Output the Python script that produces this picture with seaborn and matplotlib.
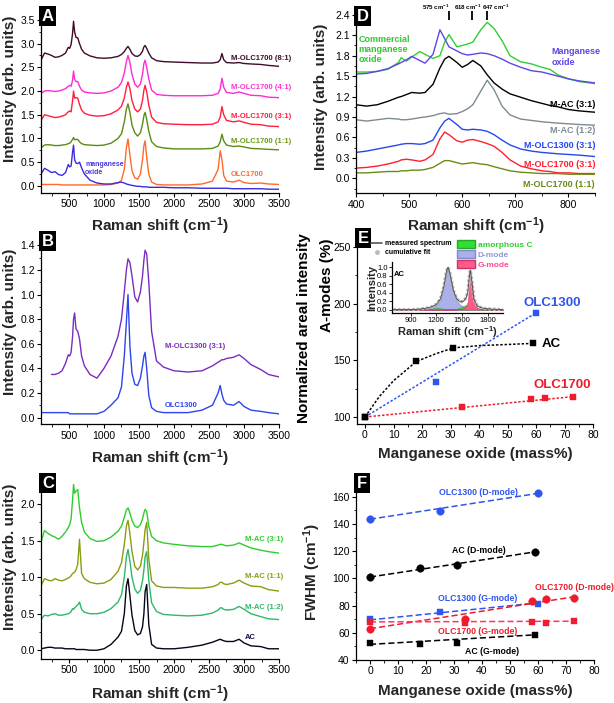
import matplotlib
matplotlib.use("Agg")
import matplotlib.pyplot as plt
import seaborn as sns
from matplotlib.ticker import MultipleLocator, FormatStrFormatter
from matplotlib.lines import Line2D
from matplotlib.patches import Patch

# ---------------- data ----------------
# panels A-C share one Raman shift grid (cm-1)
xa = [100, 150, 200, 250, 300, 350, 400, 450, 490, 510,
      530, 550, 565, 580, 600, 625, 650, 680, 720, 800,
      900, 1000, 1100, 1200, 1250, 1290, 1320, 1343, 1370, 1400,
      1440, 1480, 1520, 1550, 1570, 1587, 1610, 1640, 1680, 1750,
      1850, 2000, 2200, 2400, 2550, 2630, 2660, 2685, 2710, 2750,
      2850, 2930, 3000, 3100, 3240, 3350, 3500]

# A
a_81 = [2.65, 2.80, 2.78, 2.75, 2.71, 2.72, 2.75, 2.80, 2.92, 2.90,
        2.98, 3.20, 3.47, 3.25, 3.13, 3.12, 3.00, 2.88, 2.80, 2.74,
        2.70, 2.69, 2.70, 2.73, 2.77, 2.83, 2.90, 2.94, 2.88, 2.79,
        2.74, 2.73, 2.77, 2.84, 2.93, 2.96, 2.90, 2.80, 2.70, 2.64,
        2.62, 2.61, 2.60, 2.59, 2.59, 2.61, 2.66, 2.79, 2.66, 2.60,
        2.59, 2.60, 2.58, 2.57, 2.56, 2.54, 2.52]
a_41 = [1.95, 2.00, 2.01, 2.00, 1.99, 2.00, 2.02, 2.05, 2.10, 2.12,
        2.10, 2.22, 2.42, 2.25, 2.20, 2.20, 2.10, 2.02, 1.98, 1.96,
        1.95, 1.96, 2.00, 2.08, 2.18, 2.38, 2.62, 2.75, 2.60, 2.35,
        2.15, 2.08, 2.15, 2.35, 2.58, 2.65, 2.50, 2.25, 2.02, 1.93,
        1.91, 1.90, 1.90, 1.90, 1.91, 1.95, 2.04, 2.27, 2.08, 1.97,
        1.95, 1.98, 1.95, 1.91, 1.90, 1.87, 1.86]
a_31 = [1.38, 1.50, 1.48, 1.46, 1.44, 1.45, 1.47, 1.50, 1.56, 1.58,
        1.56, 1.78, 2.00, 1.85, 1.86, 1.85, 1.72, 1.60, 1.53, 1.49,
        1.47, 1.48, 1.52, 1.60, 1.68, 1.85, 2.08, 2.19, 2.05, 1.80,
        1.62, 1.56, 1.62, 1.80, 2.02, 2.12, 1.98, 1.70, 1.45, 1.34,
        1.31, 1.30, 1.29, 1.29, 1.30, 1.35, 1.45, 1.67, 1.50, 1.38,
        1.35, 1.37, 1.34, 1.30, 1.29, 1.26, 1.25]
a_11 = [0.80, 0.86, 0.87, 0.86, 0.85, 0.85, 0.86, 0.87, 0.89, 0.90,
        0.93, 0.98, 1.02, 0.97, 0.98, 0.98, 0.93, 0.89, 0.87, 0.86,
        0.85, 0.86, 0.90, 1.00, 1.10, 1.35, 1.62, 1.73, 1.55, 1.28,
        1.12, 1.05, 1.12, 1.30, 1.48, 1.55, 1.40, 1.15, 0.93, 0.83,
        0.80, 0.78, 0.78, 0.78, 0.79, 0.84, 0.93, 1.09, 0.95, 0.86,
        0.83, 0.84, 0.82, 0.79, 0.78, 0.77, 0.76]
a_olc = [0.03, 0.03, 0.03, 0.03, 0.03, 0.03, 0.02, 0.02, 0.02, 0.02,
         0.02, 0.02, 0.02, 0.02, 0.02, 0.02, 0.02, 0.02, 0.02, 0.02,
         0.02, 0.02, 0.03, 0.06, 0.12, 0.35, 0.80, 0.99, 0.65, 0.32,
         0.17, 0.14, 0.25, 0.55, 0.85, 0.95, 0.60, 0.25, 0.08, 0.03,
         0.02, 0.02, 0.02, 0.04, 0.10, 0.35, 0.74, 0.55, 0.22, 0.10,
         0.08, 0.12, 0.07, 0.05, 0.06, 0.04, 0.03]
a_mn = [0.25, 0.37, 0.33, 0.28, 0.30, 0.24, 0.22, 0.28, 0.45, 0.40,
        0.42, 0.70, 0.86, 0.55, 0.48, 0.47, 0.50, 0.38, 0.25, 0.12,
        0.06, 0.04, 0.04, 0.07, 0.08, 0.06, 0.04, 0.03, 0.02, 0.01,
        0.00, -0.01, -0.01, -0.02, -0.02, -0.02, -0.02, -0.03, -0.03, -0.03,
        -0.03, -0.04, -0.04, -0.05, -0.05, -0.05, -0.05, -0.05, -0.05, -0.05,
        -0.06, -0.06, -0.06, -0.06, -0.06, -0.07, -0.07]

# B  (M-OLC1300 spectrum starts at 250 cm-1)
b_olc = [0.04, 0.04, 0.04, 0.04, 0.04, 0.04, 0.04, 0.04, 0.04, 0.03,
         0.03, 0.03, 0.03, 0.03, 0.03, 0.03, 0.03, 0.03, 0.03, 0.03,
         0.03, 0.05, 0.10, 0.16, 0.25, 0.50, 0.78, 1.00, 0.58, 0.36,
         0.27, 0.26, 0.32, 0.42, 0.50, 0.53, 0.40, 0.18, 0.08, 0.05,
         0.04, 0.04, 0.04, 0.06, 0.10, 0.20, 0.26, 0.19, 0.14, 0.11,
         0.10, 0.13, 0.09, 0.06, 0.05, 0.04, 0.03]
b_molc = [0.35, 0.35, 0.36, 0.38, 0.44, 0.51, 0.50,
          0.53, 0.65, 0.80, 0.85, 0.72, 0.70, 0.64, 0.50, 0.42, 0.35,
          0.32, 0.40, 0.50, 0.66, 0.80, 1.02, 1.20, 1.29, 1.26, 1.15,
          0.98, 0.94, 1.02, 1.15, 1.28, 1.36, 1.33, 1.10, 0.70, 0.46,
          0.41, 0.38, 0.37, 0.38, 0.42, 0.45, 0.46, 0.47, 0.47, 0.48,
          0.49, 0.51, 0.48, 0.43, 0.39, 0.35, 0.33]

# C
c_31 = [1.48, 1.64, 1.60, 1.57, 1.55, 1.52, 1.56, 1.62, 1.68, 1.72,
        1.80, 2.05, 2.27, 2.15, 2.18, 2.20, 1.95, 1.75, 1.62, 1.53,
        1.49, 1.50, 1.55, 1.63, 1.70, 1.82, 1.92, 1.95, 1.88, 1.78,
        1.70, 1.68, 1.72, 1.80, 1.88, 1.93, 1.90, 1.70, 1.56, 1.50,
        1.47, 1.45, 1.43, 1.42, 1.42, 1.44, 1.45, 1.45, 1.44, 1.43,
        1.44, 1.47, 1.44, 1.40, 1.37, 1.35, 1.33]
c_11 = [0.88, 0.98, 0.96, 0.95, 0.98, 0.96, 0.95, 0.97, 0.99, 1.00,
        1.02, 1.05, 1.06, 1.07, 1.10, 1.18, 1.52, 1.05, 0.98, 0.93,
        0.91, 0.92, 0.97, 1.08, 1.20, 1.45, 1.70, 1.78, 1.60, 1.35,
        1.15, 1.10, 1.15, 1.30, 1.48, 1.65, 1.75, 1.25, 0.95, 0.88,
        0.86, 0.86, 0.85, 0.85, 0.87, 0.90, 0.93, 0.93, 0.91, 0.90,
        0.92, 0.96, 0.92, 0.88, 0.87, 0.83, 0.81]
c_12 = [0.42, 0.48, 0.47, 0.49, 0.50, 0.48, 0.48, 0.49, 0.50, 0.51,
        0.53, 0.57, 0.56, 0.58, 0.60, 0.62, 0.66, 0.56, 0.52, 0.50,
        0.50, 0.52, 0.57, 0.66, 0.76, 1.00, 1.28, 1.38, 1.22, 1.00,
        0.84, 0.78, 0.82, 0.95, 1.10, 1.28, 1.35, 0.95, 0.65, 0.53,
        0.49, 0.48, 0.47, 0.48, 0.51, 0.55, 0.58, 0.58, 0.56, 0.55,
        0.56, 0.60, 0.56, 0.50, 0.46, 0.43, 0.42]
c_ac = [0.02, 0.03, 0.04, 0.04, 0.03, 0.03, 0.03, 0.02, 0.02, 0.02,
        0.02, 0.02, 0.02, 0.02, 0.01, 0.01, 0.01, 0.01, 0.01, 0.00,
        0.00, 0.02, 0.08, 0.18, 0.26, 0.50, 0.88, 0.98, 0.75, 0.48,
        0.27, 0.21, 0.23, 0.32, 0.50, 0.80, 0.90, 0.35, 0.08, 0.03,
        0.02, 0.02, 0.04, 0.07, 0.11, 0.14, 0.15, 0.14, 0.13, 0.12,
        0.12, 0.15, 0.10, 0.06, 0.05, 0.02, 0.02]

# D
xd = [400, 420, 440, 460, 480, 485, 495, 505, 520, 530,
      545, 558, 567, 575, 590, 600, 610, 620, 635, 647,
      660, 675, 690, 710, 730, 750, 765, 780, 800, 820,
      850]
d_com = [1.56, 1.56, 1.57, 1.60, 1.70, 1.77, 1.72, 1.78, 1.86, 1.82,
         1.76, 1.80, 2.00, 2.11, 1.93, 1.95, 1.97, 2.00, 2.18, 2.29,
         2.20, 2.02, 1.80, 1.71, 1.68, 1.63, 1.60, 1.52, 1.46, 1.42,
         1.39]
d_mn = [1.53, 1.54, 1.57, 1.61, 1.68, 1.70, 1.74, 1.79, 1.73, 1.69,
        1.82, 2.18, 2.05, 1.93, 1.87, 1.83, 1.81, 1.82, 1.84, 1.83,
        1.80, 1.75, 1.69, 1.63, 1.58, 1.56, 1.53, 1.50, 1.46, 1.43,
        1.40]
d_ac31 = [1.08, 1.06, 1.08, 1.13, 1.19, 1.20, 1.23, 1.26, 1.25, 1.26,
          1.38, 1.62, 1.75, 1.79, 1.70, 1.63, 1.67, 1.73, 1.65, 1.52,
          1.40, 1.31, 1.24, 1.19, 1.14, 1.10, 1.07, 1.05, 1.01, 0.99,
          0.97]
d_ac12 = [0.86, 0.84, 0.86, 0.88, 0.87, 0.86, 0.86, 0.87, 0.89, 0.90,
          0.92, 0.95, 0.96, 0.94, 0.95, 0.98, 1.02, 1.08, 1.28, 1.44,
          1.30, 1.06, 0.93, 0.87, 0.85, 0.83, 0.82, 0.81, 0.80, 0.79,
          0.78]
d_olc13 = [0.38, 0.40, 0.43, 0.46, 0.49, 0.50, 0.51, 0.51, 0.50, 0.51,
           0.56, 0.74, 0.84, 0.88, 0.79, 0.72, 0.71, 0.72, 0.71, 0.69,
           0.64, 0.56, 0.49, 0.43, 0.40, 0.38, 0.37, 0.36, 0.35, 0.34,
           0.32]
d_olc17_31 = [0.15, 0.16, 0.18, 0.21, 0.25, 0.27, 0.28, 0.27, 0.25, 0.27,
              0.35, 0.58, 0.68, 0.64, 0.55, 0.53, 0.56, 0.57, 0.54, 0.51,
              0.47, 0.38, 0.27, 0.18, 0.14, 0.11, 0.10, 0.08, 0.08, 0.07,
              0.07]
d_olc17_11 = [0.08, 0.08, 0.09, 0.10, 0.10, 0.11, 0.11, 0.12, 0.12, 0.13,
              0.16, 0.22, 0.26, 0.26, 0.23, 0.21, 0.22, 0.23, 0.21, 0.20,
              0.17, 0.14, 0.11, 0.09, 0.08, 0.07, 0.07, 0.07, 0.06, 0.06,
              0.06]
d_marks = [575, 618, 647]
d_mark_text_x = [550, 610, 664]

# E inset (AC peak fit)
xi = [700, 900, 1000, 1100, 1150, 1200, 1250, 1290, 1320, 1338,
      1360, 1400, 1440, 1480, 1520, 1550, 1570, 1585, 1598, 1615,
      1640, 1680, 1750, 1850, 1980]
i_meas = [0.0, 0.0, 0.01, 0.04, 0.07, 0.12, 0.25, 0.55, 0.90, 1.0,
          0.85, 0.45, 0.25, 0.18, 0.20, 0.28, 0.42, 0.75, 0.93, 0.70,
          0.25, 0.08, 0.03, 0.01, 0.0]
i_d = [0.0, 0.0, 0.01, 0.03, 0.06, 0.10, 0.22, 0.52, 0.88, 0.98,
       0.83, 0.42, 0.20, 0.11, 0.07, 0.06, 0.05, 0.04, 0.04, 0.03,
       0.03, 0.02, 0.01, 0.0, 0.0]
i_g = [0.0, 0.0, 0.0, 0.0, 0.0, 0.0, 0.0, 0.0, 0.0, 0.0,
       0.0, 0.0, 0.0, 0.01, 0.03, 0.07, 0.20, 0.55, 0.80, 0.55,
       0.15, 0.04, 0.01, 0.0, 0.0]
i_am = [0.0, 0.0, 0.0, 0.01, 0.02, 0.04, 0.03, 0.02, 0.01, 0.01,
        0.01, 0.01, 0.02, 0.04, 0.08, 0.11, 0.11, 0.08, 0.06, 0.04,
        0.02, 0.01, 0.0, 0.0, 0.0]

# E main
e_ac_x = [0, 18, 31, 59]
e_ac_y = [100, 149, 161, 165]
e_ac_fit_x = [0, 5, 10, 18, 25, 31, 40, 50, 59]
e_ac_fit_y = [100, 118, 132, 149, 156, 161, 163, 164, 165]
e_13_x = [0, 25, 60]
e_13_y = [100, 131, 192]
e_13_fit = [100, 192]
e_17_x = [0, 34, 58, 63, 73]
e_17_y = [100, 109, 116, 117, 118]
e_17_fit = [100, 118]

# F (FWHM)
f_13_d = [143.5, 149.5, 162.5]
f_13_g = [70, 75, 81.5]
f_ac_d = [101, 108, 109.5, 119.5]
f_ac_g = [52.5, 52, 52.5, 58.5]
f_17_d = [63, 70.5, 83.5, 84.5, 85.5]
f_17_g = [68, 67.5, 68, 67, 68.5]
f_13_d_fit = [143.5, 162.5]
f_13_g_fit = [69.5, 82]
f_ac_d_fit = [101, 119.5]
f_ac_g_fit = [51.5, 58.5]
f_17_d_fit = [63, 86.5]
f_17_g_fit = [68, 68.5]

BLUE = "#2f55ee"
RED = "#ee1c2c"

# ---------------- style ----------------
sns.set_theme(style="ticks")
plt.rcParams["font.family"] = ["Liberation Sans", "DejaVu Sans"]
plt.rcParams["mathtext.default"] = "regular"
plt.rcParams["axes.edgecolor"] = "black"
plt.rcParams["axes.linewidth"] = 0.9
plt.rcParams["xtick.color"] = "black"
plt.rcParams["ytick.color"] = "black"
plt.rcParams["text.color"] = "black"

fig = plt.figure(figsize=(6.14, 7.03), dpi=100)
W, H = 614, 703


def px_axes(left, top, right, bottom):
    return fig.add_axes([left / W, 1 - bottom / H, (right - left) / W, (bottom - top) / H])


def style(ax, xlim, ylim, xstep, ystep, xfmt="%d", yfmt="%.1f"):
    ax.set_xlim(*xlim)
    ax.set_ylim(*ylim)
    ax.xaxis.set_major_locator(MultipleLocator(xstep))
    ax.xaxis.set_minor_locator(MultipleLocator(xstep / 2))
    ax.yaxis.set_major_locator(MultipleLocator(ystep))
    ax.yaxis.set_minor_locator(MultipleLocator(ystep / 2))
    ax.xaxis.set_major_formatter(FormatStrFormatter(xfmt))
    ax.yaxis.set_major_formatter(FormatStrFormatter(yfmt))
    sns.despine(ax=ax)
    ax.tick_params(which="major", direction="out", length=3, width=0.8, labelsize=7.5, pad=1.5)
    ax.tick_params(which="minor", direction="out", length=1.8, width=0.6)
    ax.set_facecolor("none")


def letter(ax, s):
    ax.text(0.004, 0.996, s, transform=ax.transAxes, ha="left", va="top", color="white",
            fontsize=12, fontweight="bold",
            bbox=dict(boxstyle="square,pad=0.15", fc="black", ec="none"))


def labels(ax, xlab, ylab, ylx, yly, xly=-0.12):
    ax.set_xlabel(xlab, fontsize=11, fontweight="bold")
    ax.xaxis.set_label_coords(0.5, xly)
    ax.xaxis.label.set_va("top")
    if ylab:
        ax.set_ylabel(ylab, fontsize=11, fontweight="bold")
        ax.yaxis.set_label_coords(ylx, yly)


def spec(ax, x, y, color, lw=1.0):
    sns.lineplot(x=x, y=y, ax=ax, color=color, lw=lw, sort=False, estimator=None, legend=False)


def tag(ax, x, y, s, color, size=5.5, ha="left"):
    ax.text(x, y, s, color=color, fontsize=size, fontweight="bold", ha=ha, va="center")


RAMAN = "Raman shift (cm$^{-1}$)"
INT = "Intensity (arb. units)"

# ---------------- A ----------------
axA = px_axes(41, 8, 279, 193)
spec(axA, xa, a_81, "#3d0c2a")
spec(axA, xa, a_41, "#ff2ad4")
spec(axA, xa, a_31, "#ff1f3d")
spec(axA, xa, a_11, "#5b8c12")
spec(axA, xa, a_olc, "#ff6a2a")
spec(axA, xa, a_mn, "#3b2be0")
style(axA, (100, 3500), (-0.15, 3.75), 500, 0.5)
tag(axA, 2814, 2.68, "M-OLC1700 (8:1)", "#3d0c2a")
tag(axA, 2814, 2.08, "M-OLC1700 (4:1)", "#ff33cc")
tag(axA, 2814, 1.46, "M-OLC1700 (3:1)", "#ff1f3d")
tag(axA, 2814, 0.945, "M-OLC1700 (1:1)", "#6a9a1a")
tag(axA, 2814, 0.25, "OLC1700", "#ff6a2a")
tag(axA, 729, 0.37, "manganese\noxide", "#4a3ae0", size=5)
letter(axA, "A")
labels(axA, RAMAN, INT, -0.102, 0.561)

# ---------------- B ----------------
axB = px_axes(41, 233, 279, 424.3)
spec(axB, xa[3:], b_molc, "#7a2cc0")
spec(axB, xa, b_olc, "#2e44f0")
style(axB, (100, 3500), (-0.055, 1.5), 500, 0.2)
tag(axB, 1871, 0.574, "M-OLC1300 (3:1)", "#7a2cc0")
tag(axB, 1871, 0.095, "OLC1300", "#2e44f0")
letter(axB, "B")
labels(axB, RAMAN, INT, -0.102, 0.536)

# ---------------- C ----------------
axC = px_axes(41, 475, 279, 659)
spec(axC, xa, c_31, "#2fcc2f")
spec(axC, xa, c_11, "#8c9c10")
spec(axC, xa, c_12, "#2db86a")
spec(axC, xa, c_ac, "#05051a")
style(axC, (100, 3500), (-0.12, 2.4), 500, 0.5)
tag(axC, 3014, 1.52, "M-AC (3:1)", "#2fcc2f")
tag(axC, 3014, 1.01, "M-AC (1:1)", "#8c9c10")
tag(axC, 3014, 0.59, "M-AC (1:2)", "#2db86a")
tag(axC, 3014, 0.17, "AC", "#10104a")
letter(axC, "C")
labels(axC, RAMAN, INT, -0.102, 0.557, xly=-0.13)

# ---------------- D ----------------
axD = px_axes(356, 8, 595, 193.3)
spec(axD, xd, d_com, "#2fd02f")
spec(axD, xd, d_mn, "#5f45e8")
spec(axD, xd, d_ac31, "#000000")
spec(axD, xd, d_ac12, "#7d8a92")
spec(axD, xd, d_olc13, "#2448f0")
spec(axD, xd, d_olc17_31, "#ff1f2f")
spec(axD, xd, d_olc17_11, "#6b8c12")
style(axD, (400, 850), (-0.22, 2.5), 100, 0.3)
axD.vlines(d_marks, 2.32, 2.45, color="black", lw=1.3, clip_on=False)
for xm, s in zip(d_mark_text_x, ["575 cm$^{-1}$", "618 cm$^{-1}$", "647 cm$^{-1}$"]):
    axD.text(xm, 2.515, s, fontsize=4.4, fontweight="bold", ha="center", va="center", clip_on=False)
tag(axD, 405, 1.89, "Commercial\nmanganese\noxide", "#2fc82f", size=6.5)
tag(axD, 768, 1.78, "Manganese\noxide", "#5f45e8", size=6.5)
tag(axD, 850, 1.09, "M-AC (3:1)", "#000000", size=6.5, ha="right")
tag(axD, 850, 0.70, "M-AC (1:2)", "#7d8a92", size=6.5, ha="right")
tag(axD, 850, 0.48, "M-OLC1300 (3:1)", "#2448f0", size=6.5, ha="right")
tag(axD, 850, 0.21, "M-OLC1700 (3:1)", "#ff1f2f", size=6.5, ha="right")
tag(axD, 850, -0.084, "M-OLC1700 (1:1)", "#6b8c12", size=6.5, ha="right")
letter(axD, "D")
labels(axD, RAMAN, INT, -0.116, 0.52)

# ---------------- E ----------------
axE = px_axes(356.7, 230, 593.3, 423.7)
dots = (0, (1.6, 1.2))
sns.lineplot(x=e_ac_fit_x, y=e_ac_fit_y, ax=axE, color="black", lw=1.1, ls=dots, sort=False, estimator=None)
sns.lineplot(x=[e_13_x[0], e_13_x[-1]], y=e_13_fit, ax=axE, color=BLUE, lw=1.1, ls=dots, estimator=None)
sns.lineplot(x=[e_17_x[0], e_17_x[-1]], y=e_17_fit, ax=axE, color=RED, lw=1.1, ls=dots, estimator=None)
for xs, ys, c in [(e_17_x, e_17_y, RED), (e_13_x, e_13_y, BLUE), (e_ac_x, e_ac_y, "black")]:
    sns.scatterplot(x=xs, y=ys, ax=axE, marker="s", s=24, color=c, edgecolor=c, linewidth=0.3, zorder=3)
style(axE, (-2.9, 80), (94.1, 265), 10, 50, yfmt="%d")
tag(axE, 55.7, 200.7, "OLC1300", BLUE, size=9.5)
tag(axE, 62, 164.3, "AC", "black", size=9.5)
tag(axE, 58.9, 128.2, "OLC1700", RED, size=9.5)
letter(axE, "E")
labels(axE, "Manganese oxide (mass%)", None, 0, 0)
axE.text(-0.222, 0.494, "Normalized areal intensity", transform=axE.transAxes, rotation=90,
         ha="center", va="center", fontsize=11, fontweight="bold")
axE.text(-0.1255, 0.716, "A-modes (%)", transform=axE.transAxes, rotation=90,
         ha="center", va="center", fontsize=11, fontweight="bold")

# inset
axI = px_axes(391.7, 262, 503, 313)
axI.fill_between(xi, i_d, color="#aab0ea", lw=0.5, edgecolor="#8088c8")
axI.fill_between(xi, i_am, color="#33dd33", lw=0.4, edgecolor="#22aa22")
axI.fill_between(xi, i_g, color="#ff5a8a", lw=0.4, edgecolor="#cc3366")
sns.lineplot(x=xi, y=i_meas, ax=axI, color="#b8b8b8", lw=2.4, ls=(0, (0.8, 0.6)), estimator=None)
sns.lineplot(x=xi, y=i_meas, ax=axI, color="#555555", lw=0.7, estimator=None)
axI.set_xlim(680, 1980)
axI.set_ylim(-0.08, 1.12)
axI.set_xticks([900, 1200, 1500, 1800])
axI.yaxis.set_major_locator(MultipleLocator(0.2))
axI.yaxis.set_major_formatter(FormatStrFormatter("%.1f"))
sns.despine(ax=axI)
axI.tick_params(direction="out", length=2, width=0.6, labelsize=5.5, pad=1)
axI.set_facecolor("none")
axI.set_xlabel(RAMAN, fontsize=8, fontweight="bold", labelpad=0)
axI.set_ylabel("Intensity", fontsize=8, fontweight="bold", labelpad=0)
axI.text(700, 0.83, "AC", fontsize=5.5, fontweight="bold", va="center")

fig.legend(handles=[Line2D([], [], color="#555555", lw=1.2),
                    Line2D([], [], ls="none", marker="o", ms=2.5, color="#bbbbbb")],
           labels=["measured spectrum", "cumulative fit"], loc="upper left",
           bbox_to_anchor=(371 / W, 1 - 240 / H), frameon=False, prop={"size": 5, "weight": "bold"},
           handlelength=1.6, handletextpad=0.4, labelspacing=0.3, borderpad=0, borderaxespad=0)
fig.legend(handles=[Patch(fc="#33dd33", ec="#22aa22"), Patch(fc="#aab0ea", ec="#8088c8"),
                    Patch(fc="#ff5a8a", ec="#cc3366")],
           labels=["amorphous C", "D-mode", "G-mode"], labelcolor=["#2fd02f", "#8f96dd", "#ff4d8d"],
           loc="upper left", bbox_to_anchor=(457 / W, 1 - 240 / H), frameon=False,
           prop={"size": 6, "weight": "bold"}, handlelength=2.2, handleheight=1.1,
           handletextpad=0.3, labelspacing=0.15, borderpad=0, borderaxespad=0)

# ---------------- F ----------------
axF = px_axes(356, 475, 594, 660)
dash = (0, (4, 2))
fits = [(e_13_x, f_13_d_fit, BLUE), (e_13_x, f_13_g_fit, BLUE),
        (e_ac_x, f_ac_d_fit, "black"), (e_ac_x, f_ac_g_fit, "black"),
        (e_17_x, f_17_d_fit, RED), (e_17_x, f_17_g_fit, "#ff3366")]
for xs, ys, c in fits:
    sns.lineplot(x=[xs[0], xs[-1]], y=ys, ax=axF, color=c, lw=1.1, ls=dash, estimator=None)
pts = [(e_13_x, f_13_d, BLUE, "o"), (e_13_x, f_13_g, BLUE, "s"),
       (e_ac_x, f_ac_d, "black", "o"), (e_ac_x, f_ac_g, "black", "s"),
       (e_17_x, f_17_d, RED, "o"), (e_17_x, f_17_g, RED, "s")]
for xs, ys, c, m in pts:
    sns.scatterplot(x=xs, y=ys, ax=axF, marker=m, s=30 if m == "o" else 24, color=c,
                    edgecolor=c, linewidth=0.3, zorder=3)
style(axF, (-5, 80), (40, 176), 10, 20, yfmt="%d")
tag(axF, 38.8, 163.4, "OLC1300 (D-mode)", BLUE, size=6.3, ha="center")
tag(axF, 39, 120.3, "AC (D-mode)", "black", size=6.3, ha="center")
tag(axF, 73, 93.4, "OLC1700 (D-mode)", RED, size=6.3, ha="center")
tag(axF, 38.4, 85.3, "OLC1300 (G-mode)", BLUE, size=6.3, ha="center")
tag(axF, 38.4, 60.8, "OLC1700 (G-mode)", RED, size=6.3, ha="center")
tag(axF, 43.5, 46.1, "AC (G-mode)", "black", size=6.3, ha="center")
letter(axF, "F")
labels(axF, "Manganese oxide (mass%)", "FWHM (cm$^{-1}$)", -0.137, 0.477, xly=-0.13)

fig.savefig("out.png", dpi=100)
